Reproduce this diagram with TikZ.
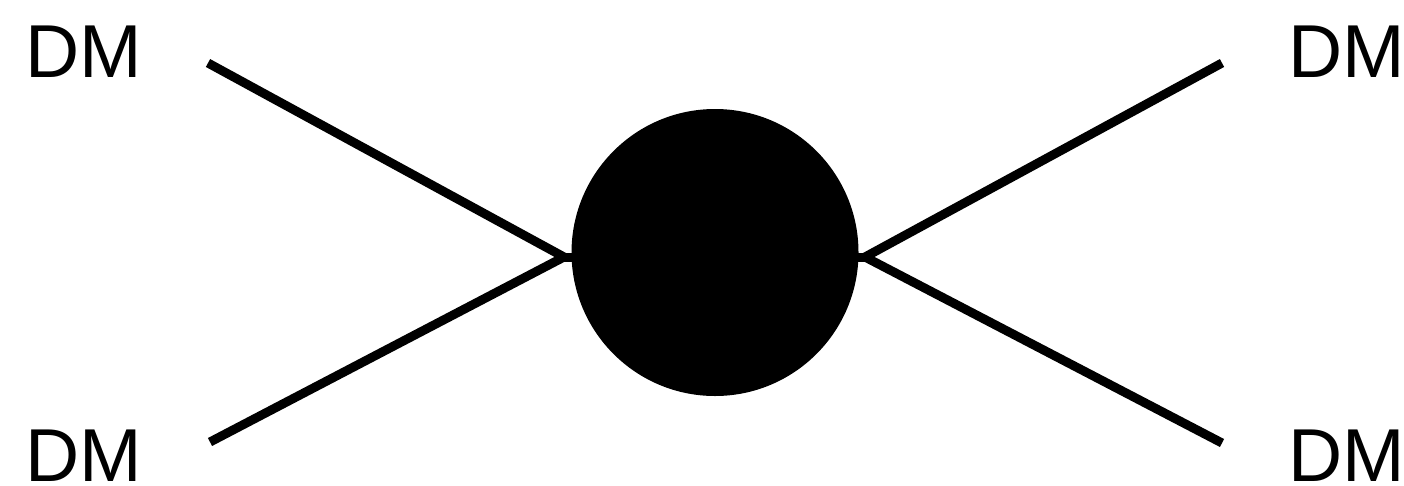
\documentclass[tikz,border=0pt]{standalone}
\usepackage{fontspec}
\setmainfont{Liberation Sans}
\begin{document}
\begin{tikzpicture}[x=1pt,y=-1pt,
  lbl/.style={inner sep=0pt,font=\fontsize{75}{80}\selectfont},
  leg/.style={line width=9pt}]
\useasboundingbox (0,0) rectangle (1404,485);
\node[circle,fill=black,minimum size=287pt,inner sep=0pt] (blob) at (715,252.5) {};
\node[lbl] (dtl) at (84,52) {DM};
\node[lbl] (dtr) at (1347,52) {DM};
\node[lbl] (dbl) at (84,456) {DM};
\node[lbl] (dbr) at (1347,456) {DM};
\coordinate (etl) at (208,63);
\coordinate (ebl) at (210,442);
\coordinate (etr) at (1222,63);
\coordinate (ebr) at (1222,443);
\coordinate (vl) at (564,257);
\coordinate (vr) at (865,257);
\coordinate (cl) at (575,257);
\coordinate (cr) at (855,257);
\draw[leg] (etl) -- (vl) -- (ebl);
\draw[leg] (vl) -- (cl);
\draw[leg] (etr) -- (vr) -- (ebr);
\draw[leg] (vr) -- (cr);
\end{tikzpicture}
\end{document}
